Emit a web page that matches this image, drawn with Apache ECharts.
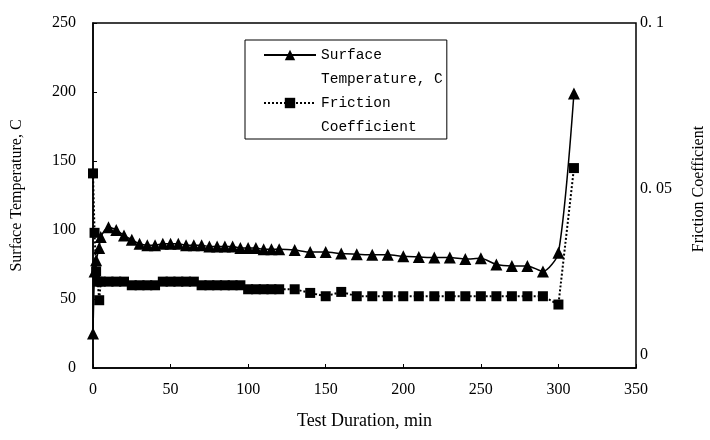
<!DOCTYPE html>
<html>
<head>
<meta charset="utf-8">
<script src="https://cdn.jsdelivr.net/npm/echarts@6/dist/echarts.min.js"></script>
<style>html,body{margin:0;padding:0;background:#fff}#c{width:710px;height:440px}</style>
</head>
<body>
<div id="c"></div>
<script>
// Surface temperature (C) vs test duration (min)
const tempTime = [0,1,2,4,5,10,15,20,25,30,35,40,45,50,55,60,65,70,75,80,85,90,95,100,105,110,115,120,130,140,150,160,170,180,190,200,210,220,230,240,250,260,270,280,290,300,310];
const tempValues = [25,70,78,87,95,102,100,96,93,90,89,89,90,90,90,89,89,89,88,88,88,88,87,87,87,86,86,86,85.5,84,84,83,82.5,82,82,81,80.5,80,80,79,79.5,75,74,74,70,83.5,199];
// Friction coefficient vs test duration (min)
const fricTime = [0,1,2,3,4,5,10,15,20,25,30,35,40,45,50,55,60,65,70,75,80,85,90,95,100,105,110,115,120,130,140,150,160,170,180,190,200,210,220,230,240,250,260,270,280,290,300,310];
const fricValues = [0.0547,0.0368,0.0252,0.0221,0.0165,0.0221,0.0221,0.0221,0.0221,0.0210,0.0210,0.0210,0.0210,0.0221,0.0221,0.0221,0.0221,0.0221,0.0210,0.0210,0.0210,0.0210,0.0210,0.0210,0.0198,0.0198,0.0198,0.0198,0.0198,0.0198,0.0187,0.0177,0.0190,0.0177,0.0177,0.0177,0.0177,0.0177,0.0177,0.0177,0.0177,0.0177,0.0177,0.0177,0.0177,0.0177,0.0152,0.0563];
const xTicks = {min: 0, max: 350, interval: 50};
const leftTicks = {min: 0, max: 250, interval: 50};
const rightTicks = {min: 0, max: 0.1, interval: 0.05};

const tempData = tempTime.map((t, i) => [t, tempValues[i]]);
const fricData = fricTime.map((t, i) => [t, fricValues[i]]);

const serif = 'Liberation Serif';
const mono = 'Liberation Mono';

const chart = echarts.init(document.getElementById('c'));
chart.setOption({
  animation: false,
  backgroundColor: '#fff',
  grid: [
    {left: 93, right: 74, top: 23, bottom: 72, show: true, borderColor: '#000', borderWidth: 1.5, backgroundColor: 'transparent', containLabel: false, outerBoundsMode: 'none'},
    {left: 93, right: 74, top: 23, bottom: 85, containLabel: false, outerBoundsMode: 'none'}
  ],
  legend: {
    orient: 'vertical',
    left: 245, top: 40,
    padding: [-21, 4, 0, 18],
    itemGap: -24,
    itemWidth: 52, itemHeight: 13,
    borderColor: '#000', borderWidth: 1,
    textStyle: {fontFamily: mono, fontSize: 14.5, lineHeight: 24, color: '#000'},
    formatter: function (name) { return '\u00a0\n' + name; },
    data: ['Surface\nTemperature, C', 'Friction\nCoefficient']
  },
  xAxis: [
    {
      gridIndex: 0, type: 'value', min: xTicks.min, max: xTicks.max, interval: xTicks.interval,
      name: 'Test Duration, min', nameLocation: 'middle', nameGap: 44,
      nameTextStyle: {fontFamily: serif, fontSize: 18, color: '#000'},
      axisLine: {lineStyle: {color: '#000', width: 1.5}},
      axisTick: {inside: true, length: 4, lineStyle: {color: '#000'}},
      axisLabel: {fontFamily: serif, fontSize: 16, color: '#000', margin: 14},
      splitLine: {show: false}
    },
    {gridIndex: 1, type: 'value', min: xTicks.min, max: xTicks.max, show: false}
  ],
  yAxis: [
    {
      gridIndex: 0, type: 'value', min: leftTicks.min, max: leftTicks.max, interval: leftTicks.interval,
      name: 'Surface Temperature, C', nameLocation: 'middle', nameGap: 68, nameRotate: 90,
      nameTextStyle: {fontFamily: serif, fontSize: 16, color: '#000'},
      axisLine: {show: true, lineStyle: {color: '#000', width: 1.5}},
      axisTick: {show: true, inside: true, length: 4, lineStyle: {color: '#000'}},
      axisLabel: {fontFamily: serif, fontSize: 16, color: '#000', margin: 17},
      splitLine: {show: false}
    },
    {
      gridIndex: 1, type: 'value', position: 'right', min: rightTicks.min, max: rightTicks.max, interval: rightTicks.interval,
      name: 'Friction Coefficient', nameLocation: 'middle', nameGap: 55, nameRotate: 90,
      nameTextStyle: {fontFamily: serif, fontSize: 16, color: '#000'},
      axisLine: {show: false},
      axisTick: {show: false},
      axisLabel: {
        fontFamily: serif, fontSize: 16, color: '#000', margin: 4,
        formatter: function (v) { return v === 0 ? '0' : String(+v.toFixed(2)).replace('.', '. '); }
      },
      splitLine: {show: false}
    }
  ],
  series: [
    {
      name: 'Surface\nTemperature, C', type: 'line', xAxisIndex: 0, yAxisIndex: 0,
      data: tempData, smooth: 0.25,
      symbol: 'triangle', symbolSize: 12,
      itemStyle: {color: '#000'},
      lineStyle: {color: '#000', width: 1.5}
    },
    {
      name: 'Friction\nCoefficient', type: 'line', xAxisIndex: 1, yAxisIndex: 1,
      data: fricData,
      symbol: 'rect', symbolSize: 10,
      itemStyle: {color: '#000'},
      lineStyle: {color: '#000', width: 2, type: 'dotted'}
    }
  ]
});
</script>
</body>
</html>
